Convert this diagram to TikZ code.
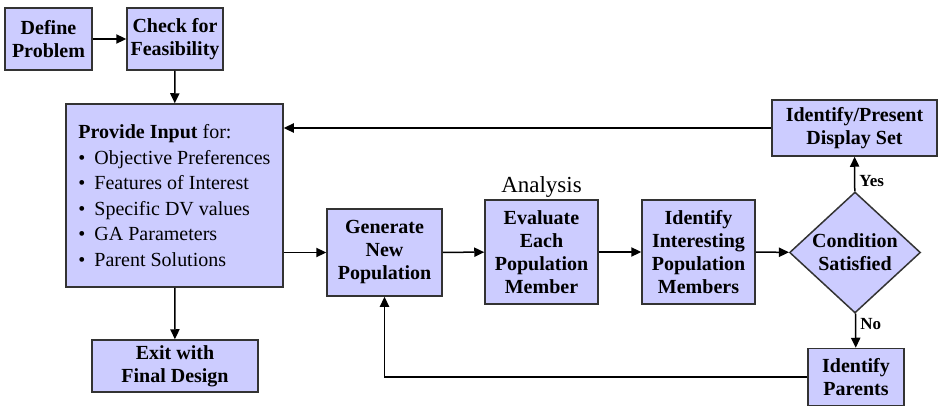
\documentclass[tikz,border=0pt]{standalone}
\usepackage{fontspec}
\setmainfont{Liberation Serif}
\usetikzlibrary{shapes,arrows,positioning,calc,arrows.meta}
\definecolor{boxfill}{HTML}{CCCCFF}
\newcommand{\bitem}{•\hspace{0.45em}}

\begin{document}
\begin{tikzpicture}[x=0.5pt, y=-0.5pt,
    block/.style={draw=black!80, fill=boxfill, line width=0.75pt, align=center, inner sep=0pt,
        font=\bfseries\fontsize{10}{11.5}\selectfont},
    decision/.style={block, diamond, aspect=1.08},
    flow/.style={draw, line width=0.75pt, -{Triangle[length=5pt, width=4.6pt]}},
    tag/.style={font=\bfseries\fontsize{8.5}{10}\selectfont, inner sep=2pt}]
    \useasboundingbox (0,0) rectangle (938,407);

    % Start
    \node[block, minimum width=43.5pt, minimum height=31pt] (define) at (48.5,39) {Define\\Problem};
    \node[block, minimum width=48pt, minimum height=31pt] (check) at (175,39) {Check for\\Feasibility};
    \node[block, minimum width=108.5pt, minimum height=91.5pt, align=left,
          font=\fontsize{10}{12.75}\selectfont] (input) at (174.5,195.5)
        {\textbf{Provide Input} for:\\
         \bitem Objective Preferences\\
         \bitem Features of Interest\\
         \bitem Specific DV values\\
         \bitem GA Parameters\\
         \bitem Parent Solutions};
    \node[block, minimum width=83pt, minimum height=26pt] (exit) at (175,366) {Exit with\\Final Design};

    % GA loop
    \node[block, minimum width=57.5pt, minimum height=43.5pt] (generate) at (384.5,252.5) {Generate\\New\\Population};
    \node[block, minimum width=56.5pt, minimum height=52pt] (evaluate) at (541.5,252) {Evaluate\\Each\\Population\\Member};
    \node[font=\fontsize{11.5}{13}\selectfont, inner sep=0.5pt, above=0pt of evaluate] (analysis) {Analysis};
    \node[block, minimum width=56.5pt, minimum height=52pt] (interest) at (698.5,252) {Identify\\Interesting\\Population\\Members};
    \node[decision, minimum width=65.5pt, minimum height=60.5pt] (cond) at (855,252.5) {Condition\\Satisfied};
    \node[block, minimum width=82.5pt, minimum height=28pt] (display) at (854.5,128) {Identify/Present\\Display Set};
    \node[block, minimum width=48pt, minimum height=28.5pt] (parents) at (856,377) {Identify\\Parents};

    % Connectors
    \draw[flow] (define) -- (check);
    \draw[flow] (check) -- (input);
    \draw[flow] (input) -- (exit);
    \draw[flow] (generate.west -| input.east) -- (generate.west);
    \draw[flow] (generate) -- (evaluate);
    \draw[flow] (evaluate) -- (interest);
    \draw[flow] (interest) -- (cond);
    \draw[flow] (cond) -- node[tag, right, pos=0.3] {Yes} (display);
    \draw[flow] (cond) -- node[tag, right, pos=0.3] {No} (parents);
    \draw[flow] (display.west) -- (display.west -| input.east);
    \draw[flow] (parents.west) -| (generate.south);
\end{tikzpicture}
\end{document}
